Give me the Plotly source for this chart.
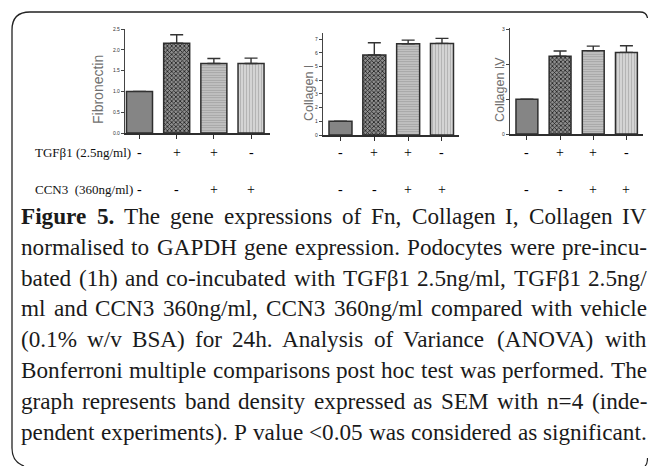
import plotly.graph_objects as go

W, H = 656, 466
OFF = 8  # the page body margin shifts the figure by this many pixels
FW, FH = W - 2 * OFF, H - OFF

# ---------------- data ----------------
x_pos = [0, 1, 2, 3]
fn_values = [1.0, 2.16, 1.67, 1.67]
fn_errors = [0.0, 0.20, 0.12, 0.13]
col1_values = [1.0, 5.84, 6.66, 6.69]
col1_errors = [0.0, 0.90, 0.27, 0.37]
col4_values = [1.0, 2.23, 2.39, 2.34]
col4_errors = [0.0, 0.15, 0.13, 0.19]
panel_titles = ["Fibronectin", "Collagen I", "Collagen IV"]
fn_ticks = [0.0, 0.5, 1.0, 1.5, 2.0, 2.5]
col1_ticks = [0, 1, 2, 3, 4, 5, 6, 7]
col4_ticks = [0, 1, 2, 3]
tgf_signs = ["-", "+", "+", "-"]
ccn3_signs = ["-", "-", "+", "+"]
row_labels = ["TGFβ1 (2.5ng/ml)", "CCN3  (360ng/ml)"]
caption_bold_words = 2
caption_lines = [
    "Figure 5. The gene expressions of Fn, Collagen I, Collagen IV",
    "normalised to GAPDH gene expression. Podocytes were pre-incu-",
    "bated (1h) and co-incubated with TGFβ1 2.5ng/ml, TGFβ1 2.5ng/",
    "ml and CCN3 360ng/ml, CCN3 360ng/ml compared with vehicle",
    "(0.1% w/v BSA) for 24h. Analysis of Variance (ANOVA) with",
    "Bonferroni multiple comparisons post hoc test was performed. The",
    "graph represents band density expressed as SEM with n=4 (inde-",
    "pendent experiments). P value <0.05 was considered as significant.",
]

# ---------------- styles ----------------
def px(x):
    return (x - OFF) / FW

def py(y):
    return 1 - (y - OFF) / FH

bar_colors = ["#858585", "#8e8e8e", "#c4c4c4", "#d4d4d4"]
pat_shapes = ["", "x", "-", "|"]
pat_fg = ["#858585", "#1e1e1e", "#a0a0a0", "#b4b4b4"]
pat_size = [4, 3, 2.5, 3]
pat_sol = [0.3, 0.45, 0.4, 0.35]

panels = [
    dict(vals=fn_values, errs=fn_errors, ticks=fn_ticks, fmt=".1f",
         xd=(125, 270), yd=(133, 29), xr=(-0.39, 3.51), yr=(0, 2.5), bw=0.7,
         title_xy=(98, 90), title_size=14),
    dict(vals=col1_values, errs=col1_errors, ticks=col1_ticks, fmt="d",
         xd=(323, 459), yd=(135, 33), xr=(-0.517, 3.503), yr=(0, 7.45), bw=0.68,
         title_xy=(309, 93), title_size=12.5),
    dict(vals=col4_values, errs=col4_errors, ticks=col4_ticks, fmt="d",
         xd=(510, 643), yd=(134, 28), xr=(-0.51, 3.5), yr=(0, 3.04), bw=0.66,
         title_xy=(500, 90), title_size=12.5),
]

fig = go.Figure()
annotations = []
layout_axes = {}
sign_font = dict(family="Liberation Serif", size=14, color="#000000")

for i, p in enumerate(panels):
    sfx = "" if i == 0 else str(i + 1)
    xa, ya = "x" + sfx, "y" + sfx
    # solid fill underneath
    fig.add_trace(go.Bar(
        x=x_pos, y=p["vals"], xaxis=xa, yaxis=ya, width=p["bw"],
        marker=dict(color=bar_colors, line=dict(width=0)),
        showlegend=False, hoverinfo="skip",
    ))
    # hatch pattern, outline and error bars on top
    fig.add_trace(go.Bar(
        x=x_pos, y=p["vals"], xaxis=xa, yaxis=ya, width=p["bw"],
        marker=dict(color="rgba(0,0,0,0)", line=dict(color="#2e2e2e", width=1.5),
                    pattern=dict(shape=pat_shapes, fgcolor=pat_fg,
                                 bgcolor="rgba(0,0,0,0)",
                                 size=pat_size, solidity=pat_sol, fillmode="replace")),
        error_y=dict(type="data", symmetric=False, array=p["errs"],
                     arrayminus=[0] * 4, color="#333333", thickness=1.4, width=6.5),
        showlegend=False, hoverinfo="skip",
    ))
    layout_axes["xaxis" + sfx] = dict(
        domain=[px(p["xd"][0]), px(p["xd"][1])], range=list(p["xr"]), anchor=ya,
        showline=True, linecolor="#2e2e2e", linewidth=2, ticks="outside",
        ticklen=4, tickwidth=1, tickcolor="#2e2e2e", tickvals=x_pos,
        showticklabels=False, showgrid=False, zeroline=False, fixedrange=True,
        automargin=False)
    layout_axes["yaxis" + sfx] = dict(
        domain=[py(p["yd"][0]), py(p["yd"][1])], range=list(p["yr"]), anchor=xa,
        showline=True, linecolor="#444444", linewidth=1.3, ticks="outside",
        ticklen=3, tickwidth=1, tickcolor="#444444", tickvals=p["ticks"],
        tickformat=p["fmt"], tickfont=dict(size=5, color="#333333", family="Liberation Sans"),
        showgrid=False, zeroline=False, fixedrange=True, automargin=False)
    tx, ty = p["title_xy"]
    annotations.append(dict(
        text=panel_titles[i], x=px(tx), y=py(ty), xref="paper", yref="paper",
        textangle=-90, showarrow=False, xanchor="center", yanchor="middle",
        font=dict(family="Liberation Sans", size=p["title_size"], color="#707070")))
    for j in range(4):
        annotations.append(dict(text=tgf_signs[j], x=x_pos[j], y=py(152), xref=xa,
                                yref="paper", showarrow=False, xanchor="center",
                                yanchor="middle", font=sign_font))
        annotations.append(dict(text=ccn3_signs[j], x=x_pos[j], y=py(189), xref=xa,
                                yref="paper", showarrow=False, xanchor="center",
                                yanchor="middle", font=sign_font))

for k, lab in enumerate(row_labels):
    annotations.append(dict(text=lab, x=px(33), y=py([152, 189][k]), xref="paper",
                            yref="paper", showarrow=False, xanchor="left", yanchor="middle",
                            font=dict(family="Liberation Serif", size=13, color="#111")))

# ---------------- justified caption ----------------
TNR = {' ': 250, 'a': 444, 'b': 500, 'c': 444, 'd': 500, 'e': 444, 'f': 333, 'g': 500,
       'h': 500, 'i': 278, 'j': 278, 'k': 500, 'l': 278, 'm': 778, 'n': 500, 'o': 500,
       'p': 500, 'q': 500, 'r': 333, 's': 389, 't': 278, 'u': 500, 'v': 500, 'w': 722,
       'x': 500, 'y': 500, 'z': 444, 'A': 722, 'B': 667, 'C': 667, 'D': 722, 'E': 611,
       'F': 556, 'G': 722, 'H': 722, 'I': 333, 'J': 389, 'K': 722, 'L': 611, 'M': 889,
       'N': 722, 'O': 722, 'P': 556, 'Q': 722, 'R': 667, 'S': 556, 'T': 611, 'U': 722,
       'V': 722, 'W': 944, 'X': 722, 'Y': 722, 'Z': 611, '.': 250, ',': 250, '(': 333,
       ')': 333, '/': 278, '-': 333, '%': 833, '=': 564, '<': 564, ':': 278, 'β': 500}
for d in "0123456789":
    TNR[d] = 500
TNR_B = {'F': 611, 'i': 278, 'g': 500, 'u': 556, 'r': 444, 'e': 444, '5': 500, '.': 250}

CAP_FS = 23.2
CAP_L, CAP_R = 21, 647
CAP_Y0, CAP_DY = 216, 30.8


def wwidth(word, bold=False):
    tbl = TNR_B if bold else TNR
    return sum(tbl.get(c, TNR.get(c, 500)) for c in word) / 1000 * CAP_FS


def esc(s):
    return s.replace("<", "&lt;")


for li, line in enumerate(caption_lines):
    words = line.split(" ")
    bolds = [li == 0 and wi < caption_bold_words for wi in range(len(words))]
    widths = [wwidth(w, b) for w, b in zip(words, bolds)]
    gap = (CAP_R - CAP_L - sum(widths)) / (len(words) - 1)
    xcur = CAP_L
    ypos = CAP_Y0 + li * CAP_DY
    for wi, (w, b) in enumerate(zip(words, bolds)):
        last = wi == len(words) - 1
        annotations.append(dict(
            text=("<b>%s</b>" % esc(w)) if b else esc(w),
            x=px(CAP_R if last else xcur), y=py(ypos), xref="paper", yref="paper",
            showarrow=False, xanchor="right" if last else "left", yanchor="middle",
            borderpad=0, borderwidth=0,
            font=dict(family="Liberation Serif", size=CAP_FS, color="#1a1a1a")))
        xcur += widths[wi] + gap

# ---------------- frame ----------------
def P(x, y):
    return "%.5f,%.5f" % (px(x), py(y))

frame_path = ("M " + P(647.5, 18) + " Q " + P(646.5, 12) + " " + P(640, 12) +
              " L " + P(30, 12) + " Q " + P(12, 12) + " " + P(12, 30) +
              " L " + P(12, 448) + " Q " + P(12, 462) + " " + P(24, 466))
shapes = [dict(type="path", path=frame_path, xref="paper", yref="paper",
               line=dict(color="#222222", width=1.3)),
          dict(type="path", path="M " + P(647.5, 458) + " Q " + P(647.5, 464) + " " + P(645, 466),
               xref="paper", yref="paper", line=dict(color="#222222", width=1.2))]

fig.update_layout(
    width=FW, height=FH, margin=dict(l=0, r=0, t=0, b=0),
    paper_bgcolor="white", plot_bgcolor="white", template="none",
    annotations=annotations, shapes=shapes, barmode="overlay",
    **layout_axes,
)

fig.write_html("out.html")
